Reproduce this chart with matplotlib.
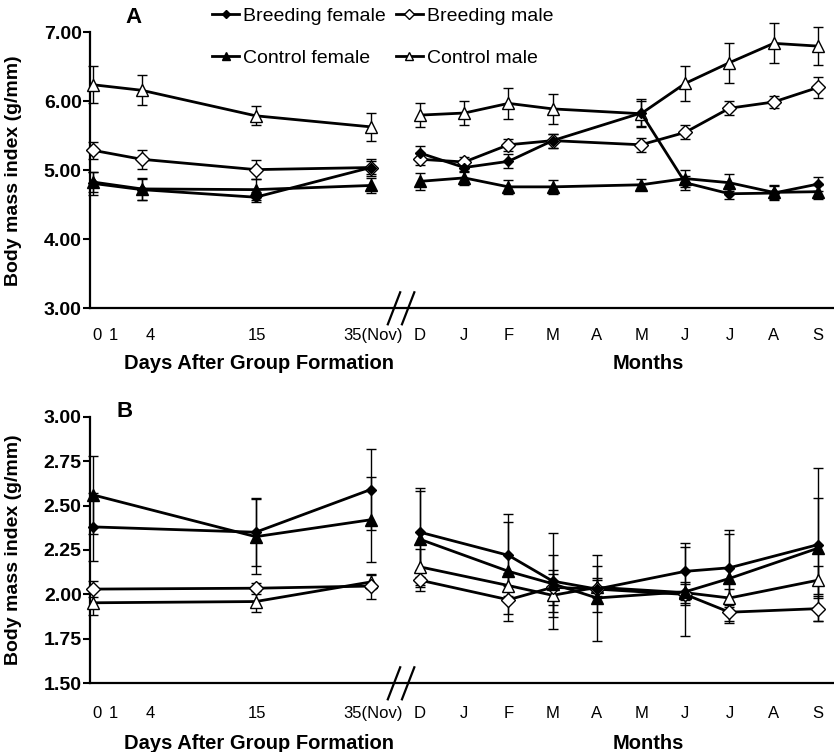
import numpy as np
import matplotlib
matplotlib.use("Agg")
import matplotlib.pyplot as plt
import matplotlib.transforms as mtransforms
from matplotlib.lines import Line2D

plt.rcParams['font.family'] = ['Liberation Sans', 'DejaVu Sans']

# ---- categories ----
day_labels = ["0", "1", "4", "15", "35(Nov)"]
month_labels = ["D", "J", "F", "M", "A", "M", "J", "J", "A", "S"]
nan = np.nan

# ---- panel A (days 0, 4, 15, 35) ----
a_days = [0, 4, 15, 35]
a_bf_days = [4.81, 4.72, 4.61, 5.04]
a_bf_days_err = [0.17, 0.15, 0.07, 0.10]
a_cf_days = [4.83, 4.73, 4.72, 4.78]
a_cf_days_err = [0.15, 0.16, 0.15, 0.11]
a_bm_days = [5.29, 5.16, 5.01, 5.04]
a_bm_days_err = [0.12, 0.14, 0.14, 0.12]
a_cm_days = [6.24, 6.16, 5.79, 5.63]
a_cm_days_err = [0.27, 0.22, 0.14, 0.20]

# ---- panel A (months D..S, no April) ----
a_bf_mon = [5.25, 5.04, 5.13, 5.43, nan, 5.83, 4.82, 4.66, 4.67, 4.80]
a_bf_mon_err = [0.10, 0.07, 0.10, 0.10, nan, 0.20, 0.10, 0.07, 0.10, 0.10]
a_cf_mon = [4.84, 4.89, 4.76, 4.76, nan, 4.79, 4.88, 4.82, 4.68, 4.69]
a_cf_mon_err = [0.12, 0.10, 0.10, 0.10, nan, 0.08, 0.12, 0.12, 0.10, 0.10]
a_bm_mon = [5.16, 5.12, 5.37, 5.43, nan, 5.37, 5.55, 5.90, 5.99, 6.20]
a_bm_mon_err = [0.09, 0.08, 0.09, 0.10, nan, 0.10, 0.10, 0.10, 0.08, 0.15]
a_cm_mon = [5.80, 5.83, 5.97, 5.89, nan, 5.82, 6.26, 6.56, 6.84, 6.80]
a_cm_mon_err = [0.17, 0.17, 0.22, 0.22, nan, 0.18, 0.25, 0.29, 0.29, 0.27]

# ---- panel B (days 0, 15, 35) ----
b_days = [0, 15, 35]
b_bf_days = [2.38, 2.35, 2.59]
b_bf_days_err = [0.19, 0.19, 0.23]
b_cf_days = [2.56, 2.325, 2.42]
b_cf_days_err = [0.22, 0.21, 0.24]
b_bm_days = [2.03, 2.035, 2.047]
b_bm_days_err = [0.045, 0.03, 0.07]
b_cm_days = [1.953, 1.96, 2.07]
b_cm_days_err = [0.07, 0.06, 0.04]

# ---- panel B (months; no Jan, May, Aug) ----
b_bf_mon = [2.35, nan, 2.22, 2.075, 2.03, nan, 2.13, 2.15, nan, 2.28]
b_bf_mon_err = [0.25, nan, 0.23, 0.27, 0.13, nan, 0.16, 0.21, nan, 0.43]
b_cf_mon = [2.31, nan, 2.13, 2.06, 1.98, nan, 2.015, 2.09, nan, 2.26]
b_cf_mon_err = [0.27, nan, 0.28, 0.16, 0.24, nan, 0.25, 0.25, nan, 0.28]
b_cm_mon = [2.155, nan, 2.05, 1.995, 2.04, nan, 2.01, 1.98, nan, 2.08]
b_cm_mon_err = [0.10, nan, 0.07, 0.12, 0.05, nan, 0.06, 0.05, nan, 0.08]
b_bm_mon = [2.08, nan, 1.97, 2.04, 2.03, nan, 2.00, 1.90, nan, 1.92]
b_bm_mon_err = [0.06, nan, 0.08, 0.10, 0.05, nan, 0.06, 0.05, nan, 0.07]

# x layout: the day scale is stretched by hand in the original, months are evenly spaced
day_slot = {0: 0.0, 1: 0.45, 4: 1.1, 15: 3.68, 35: 6.28}
day_tick_x = [0.1, 0.47, 1.29, 3.71, 6.33]
month_x = 7.4 + np.arange(len(month_labels))
break_x = [6.81, 7.13]

styles = {
    "bf": dict(marker="D", ms=5.5, mfc="black", label="Breeding female"),
    "bm": dict(marker="D", ms=7, mfc="white", label="Breeding male"),
    "cf": dict(marker="^", ms=8, mfc="black", label="Control female"),
    "cm": dict(marker="^", ms=8.5, mfc="white", label="Control male"),
}


def draw(ax, x, y, err, key):
    x = np.asarray(x, float)
    y = np.asarray(y, float)
    err = np.asarray(err, float)
    ok = ~np.isnan(y)
    st = styles[key]
    ax.errorbar(x[ok], y[ok], yerr=err[ok], color="black", lw=2.0,
                marker=st["marker"], ms=st["ms"], mfc=st["mfc"], mec="black",
                mew=1.0, elinewidth=1.0, capsize=3.5, capthick=1.0, zorder=3,
                clip_on=False)


def style_axis(ax, ylim, yticks, tick_pad):
    ax.set_xlim(-0.068, 16.765)
    ax.set_ylim(*ylim)
    ax.spines["top"].set_visible(False)
    ax.spines["right"].set_visible(False)
    ax.spines["left"].set_linewidth(1.6)
    ax.spines["bottom"].set_linewidth(1.6)
    ax.set_yticks(yticks)
    ax.set_yticklabels(["%.2f" % v for v in yticks], fontsize=14, fontweight="bold")
    ax.tick_params(axis="y", length=5, width=1.5, pad=1)
    ax.set_xticks(list(day_tick_x) + list(month_x))
    ax.set_xticklabels(day_labels + month_labels, fontsize=12)
    ax.tick_params(axis="x", length=0, pad=tick_pad)
    ax.set_ylabel("Body mass index (g/mm)", fontsize=14, fontweight="bold")
    ax.yaxis.set_label_coords(-0.092, 0.5)
    # axis break marks
    tr = mtransforms.blended_transform_factory(ax.transData, ax.transAxes)
    h = 16.0 / (ax.get_position().height * 752)
    for bx in break_x:
        ax.plot([bx - 0.14, bx + 0.14], [-h, h], color="black", lw=1.6,
                transform=tr, clip_on=False, zorder=5)


fig = plt.figure(figsize=(8.34, 7.52), dpi=100)
axA = fig.add_axes([90 / 834, 1 - 308.3 / 752, 744 / 834, 276 / 752])
axB = fig.add_axes([90 / 834, 1 - 683.3 / 752, 744 / 834, 266.6 / 752])

a_dx = [day_slot[d] for d in a_days]
b_dx = [day_slot[d] for d in b_days]

draw(axA, a_dx, a_cm_days, a_cm_days_err, "cm")
draw(axA, a_dx, a_bm_days, a_bm_days_err, "bm")
draw(axA, a_dx, a_cf_days, a_cf_days_err, "cf")
draw(axA, a_dx, a_bf_days, a_bf_days_err, "bf")
draw(axA, month_x, a_cm_mon, a_cm_mon_err, "cm")
draw(axA, month_x, a_bm_mon, a_bm_mon_err, "bm")
draw(axA, month_x, a_cf_mon, a_cf_mon_err, "cf")
draw(axA, month_x, a_bf_mon, a_bf_mon_err, "bf")

draw(axB, b_dx, b_cm_days, b_cm_days_err, "cm")
draw(axB, b_dx, b_bm_days, b_bm_days_err, "bm")
draw(axB, b_dx, b_cf_days, b_cf_days_err, "cf")
draw(axB, b_dx, b_bf_days, b_bf_days_err, "bf")
draw(axB, month_x, b_cm_mon, b_cm_mon_err, "cm")
draw(axB, month_x, b_bm_mon, b_bm_mon_err, "bm")
draw(axB, month_x, b_cf_mon, b_cf_mon_err, "cf")
draw(axB, month_x, b_bf_mon, b_bf_mon_err, "bf")

style_axis(axA, (3.0, 7.0), np.arange(3.0, 7.01, 1.0), 14)
style_axis(axB, (1.5, 3.0), np.arange(1.5, 3.01, 0.25), 16)

# x axis titles
for ax, yoff in ((axA, -55 / 276), (axB, -60 / 266.6)):
    tr = mtransforms.blended_transform_factory(ax.transData, ax.transAxes)
    ax.text(3.76, yoff, "Days After Group Formation", transform=tr, ha="center",
            va="center", fontsize=14.5, fontweight="bold")
    ax.text(12.56, yoff, "Months", transform=tr, ha="center", va="center",
            fontsize=14.5, fontweight="bold")

axA.text(0.058, 1.055, "A", transform=axA.transAxes, ha="center", va="center",
         fontsize=16, fontweight="bold")
axB.text(0.047, 1.02, "B", transform=axB.transAxes, ha="center", va="center",
         fontsize=16, fontweight="bold")

# legend
handles = []
for key in ["bf", "cf", "bm", "cm"]:
    st = styles[key]
    handles.append(Line2D([], [], color="black", lw=2.0, marker=st["marker"],
                          ms=st["ms"] * 0.7, mfc=st["mfc"], mec="black", mew=1.0,
                          label=st["label"]))
fig.legend(handles=handles, ncol=2, loc="upper left",
           bbox_to_anchor=(212 / 834, 1 - 7 / 752), frameon=False, fontsize=14,
           handlelength=1.4, handletextpad=0.2, columnspacing=0.5,
           labelspacing=1.25, borderpad=0, borderaxespad=0)

fig.savefig("out.png", dpi=100)
